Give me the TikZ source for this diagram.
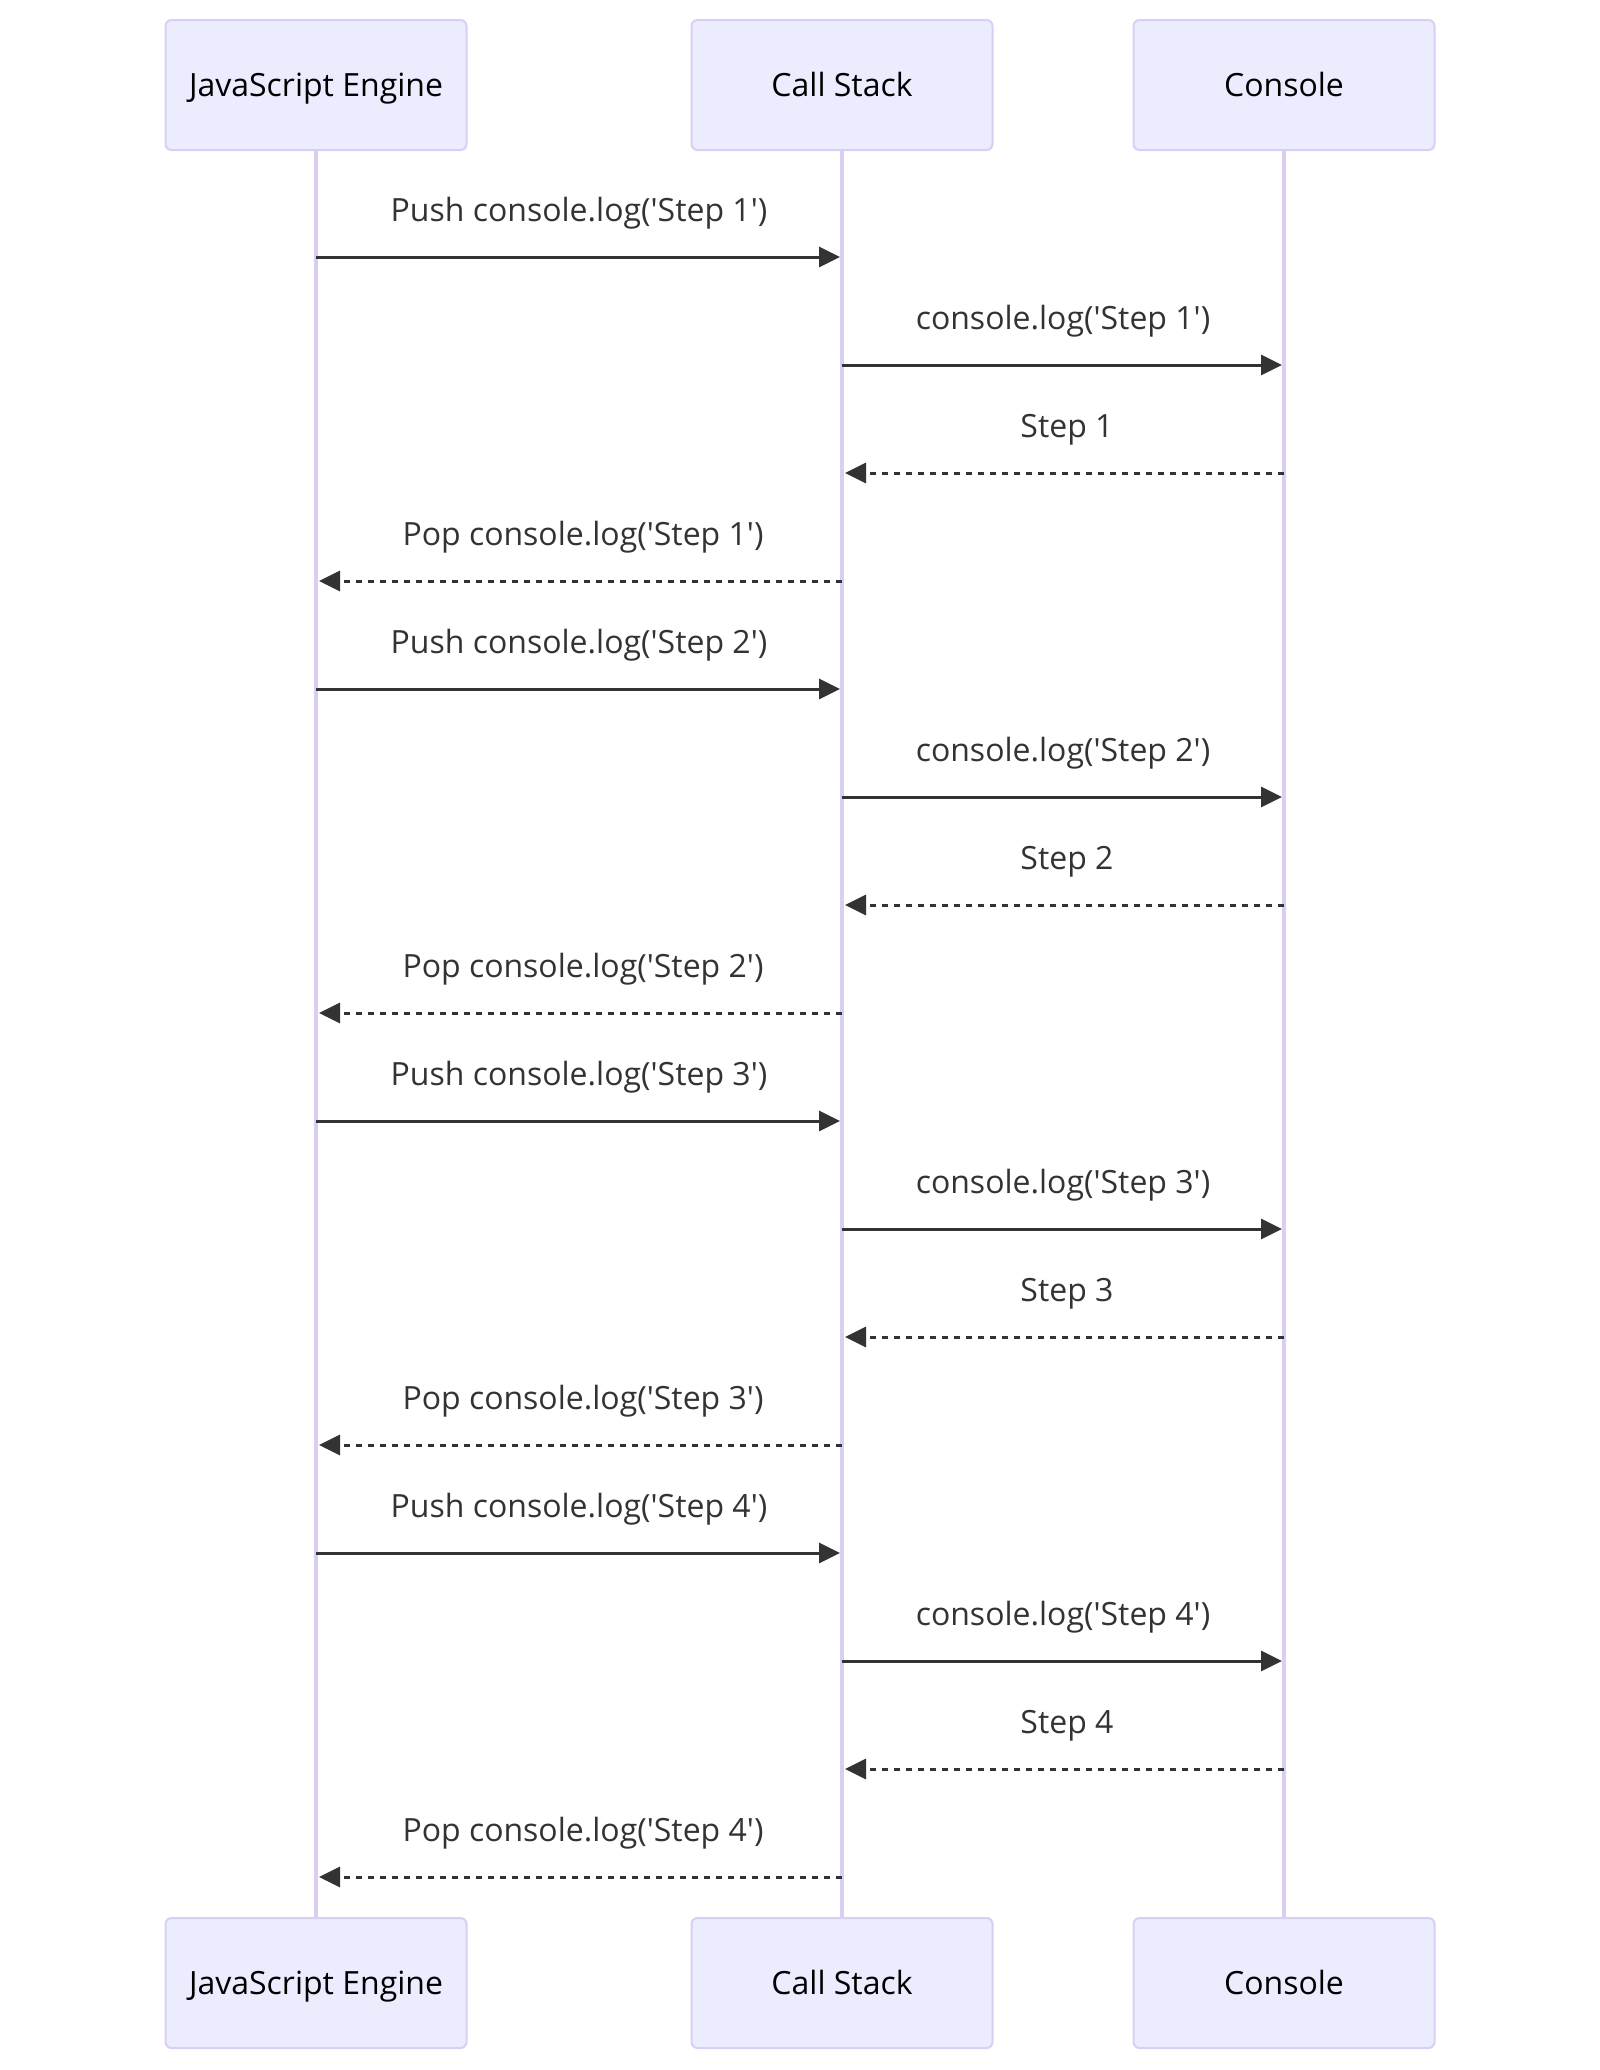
\documentclass[tikz,border=0pt]{standalone}
\usepackage{fontspec}
\newfontfamily\osans{Open Sans}
\usetikzlibrary{arrows.meta,positioning}
\definecolor{actorfill}{HTML}{ECECFF}
\definecolor{actorline}{HTML}{DACEF3}
\definecolor{msgcol}{HTML}{333333}

\begin{document}
\begin{tikzpicture}[x=1pt, y=-1pt, node distance=1898pt,
	actor/.style={rectangle, draw=actorline, line width=2pt, fill=actorfill, rounded corners=6pt, minimum width=301pt, minimum height=130pt, inner sep=0pt, text height=23pt, text depth=0pt, font=\osans\fontsize{32}{38}\selectfont},
	lifeline/.style={draw=actorline, line width=4pt},
	msg/.style={-{Triangle[length=21pt, width=20pt]}, draw=msgcol, line width=3pt, shorten >=2pt},
	reply/.style={-{Triangle[length=21pt, width=20pt]}, draw=msgcol, line width=3pt, dash pattern=on 6pt off 6pt, shorten >=3pt},
	lbl/.style={anchor=base, yshift=36pt, text=msgcol, font=\osans\fontsize{32}{38}\selectfont},
	rlbl/.style={lbl, xshift=4pt}]
	\useasboundingbox (0,0) rectangle (1600,2070);

	% participants
	\node[actor] (engine) at (316,85) {JavaScript Engine};
	\node[actor] (stack) at (842,85) {Call Stack};
	\node[actor] (console) at (1284,85) {Console};
	\node[actor] (engine-b) [below of=engine] {JavaScript Engine};
	\node[actor] (stack-b) [below of=stack] {Call Stack};
	\node[actor] (console-b) [below of=console] {Console};

	% lifelines
	\draw[lifeline] (engine.south) -- (engine-b.north);
	\draw[lifeline] (stack.south) -- (stack-b.north);
	\draw[lifeline] (console.south) -- (console-b.north);

	% step 1
	\draw[msg] (engine |- 0,257) -- node[lbl] {Push console.log('Step 1')} (stack |- 0,257);
	\draw[msg] (stack |- 0,365) -- node[lbl] {console.log('Step 1')} (console |- 0,365);
	\draw[reply] (console |- 0,473) -- node[rlbl] {Step 1} (stack |- 0,473);
	\draw[reply] (stack |- 0,581) -- node[rlbl] {Pop console.log('Step 1')} (engine |- 0,581);

	% step 2
	\draw[msg] (engine |- 0,689) -- node[lbl] {Push console.log('Step 2')} (stack |- 0,689);
	\draw[msg] (stack |- 0,797) -- node[lbl] {console.log('Step 2')} (console |- 0,797);
	\draw[reply] (console |- 0,905) -- node[rlbl] {Step 2} (stack |- 0,905);
	\draw[reply] (stack |- 0,1013) -- node[rlbl] {Pop console.log('Step 2')} (engine |- 0,1013);

	% step 3
	\draw[msg] (engine |- 0,1121) -- node[lbl] {Push console.log('Step 3')} (stack |- 0,1121);
	\draw[msg] (stack |- 0,1229) -- node[lbl] {console.log('Step 3')} (console |- 0,1229);
	\draw[reply] (console |- 0,1337) -- node[rlbl] {Step 3} (stack |- 0,1337);
	\draw[reply] (stack |- 0,1445) -- node[rlbl] {Pop console.log('Step 3')} (engine |- 0,1445);

	% step 4
	\draw[msg] (engine |- 0,1553) -- node[lbl] {Push console.log('Step 4')} (stack |- 0,1553);
	\draw[msg] (stack |- 0,1661) -- node[lbl] {console.log('Step 4')} (console |- 0,1661);
	\draw[reply] (console |- 0,1769) -- node[rlbl] {Step 4} (stack |- 0,1769);
	\draw[reply] (stack |- 0,1877) -- node[rlbl] {Pop console.log('Step 4')} (engine |- 0,1877);

\end{tikzpicture}
\end{document}
